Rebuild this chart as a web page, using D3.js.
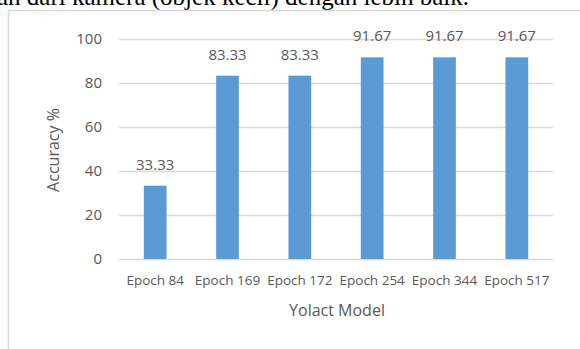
<!DOCTYPE html>
<html lang="en">
<head>
<meta charset="UTF-8">
<title>Yolact Accuracy</title>
<script src="https://d3js.org/d3.v7.min.js"></script>
<style>
  body { margin: 0; background: #fff; }
  svg text { font-family: "Open Sans", sans-serif; fill: #595959; }
</style>
</head>
<body>
<div id="chart"></div>
<script>
    // chart data
    const categories = ["Epoch 84", "Epoch 169", "Epoch 172", "Epoch 254", "Epoch 344", "Epoch 517"];
    const accuracy = [33.33, 83.33, 83.33, 91.67, 91.67, 91.67];
    const yTicks = [0, 20, 40, 60, 80, 100];

    const width = 580;
    const height = 349;
    const margin = {top: 39, right: 26, bottom: 90, left: 119};

    const svg = d3.select("#chart").append("svg")
        .attr("width", width)
        .attr("height", height);

    // cut-off line of the document text above the figure
    svg.append("text")
        .attr("x", -3)
        .attr("y", 5)
        .style("font-family", "'Liberation Serif', serif")
        .style("font-size", "25px")
        .style("fill", "#000")
        .text("an dari kamera (objek kecil) dengan lebih baik.");

    // chart frame
    svg.append("path")
        .attr("d", `M8.5,${height} V10.5 H${width}`)
        .attr("fill", "none")
        .attr("stroke", "#d9d9d9")
        .attr("stroke-width", 1.5);

    const x = d3.scaleBand()
        .domain(categories)
        .range([margin.left, width - margin.right - 1])
        .paddingInner(0.686)
        .paddingOuter(0.343);

    const y = d3.scaleLinear()
        .domain([0, 100])
        .range([height - margin.bottom, margin.top]);

    // gridlines + y labels
    const yAxis = svg.append("g")
        .attr("transform", `translate(${margin.left},0)`)
        .call(d3.axisLeft(y).tickValues(yTicks).tickSize(-(width - margin.left - margin.right - 1)).tickPadding(17));
    yAxis.select(".domain").remove();
    yAxis.selectAll(".tick line").attr("stroke", "#d9d9d9").attr("stroke-width", 1.5);
    yAxis.selectAll(".tick text").style("font-size", "15px").attr("fill", "#595959");

    // bars
    svg.append("g")
        .attr("fill", "#5b9bd5")
        .selectAll("rect")
        .data(accuracy)
        .enter().append("rect")
        .attr("x", (d, i) => x(categories[i]))
        .attr("y", d => y(d))
        .attr("width", x.bandwidth())
        .attr("height", d => y(0) - y(d));

    // value labels
    svg.append("g")
        .selectAll("text")
        .data(accuracy)
        .enter().append("text")
        .attr("x", (d, i) => x(categories[i]) + x.bandwidth() / 2)
        .attr("y", d => y(d) - 16)
        .attr("text-anchor", "middle")
        .style("font-size", "15px")
        .text(d => d.toFixed(2));

    // x labels
    const xAxis = svg.append("g")
        .attr("transform", `translate(0,${y(0)})`)
        .call(d3.axisBottom(x).tickSize(0).tickPadding(16));
    xAxis.select(".domain").remove();
    xAxis.selectAll(".tick text").style("font-size", "13.5px").attr("fill", "#595959");

    // axis titles
    svg.append("text")
        .attr("x", 337)
        .attr("y", 316)
        .attr("text-anchor", "middle")
        .style("font-size", "16px")
        .text("Yolact Model");

    svg.append("text")
        .attr("transform", `translate(59,150) rotate(-90)`)
        .attr("text-anchor", "middle")
        .style("font-size", "16px")
        .text("Accuracy %");
</script>
</body>
</html>
